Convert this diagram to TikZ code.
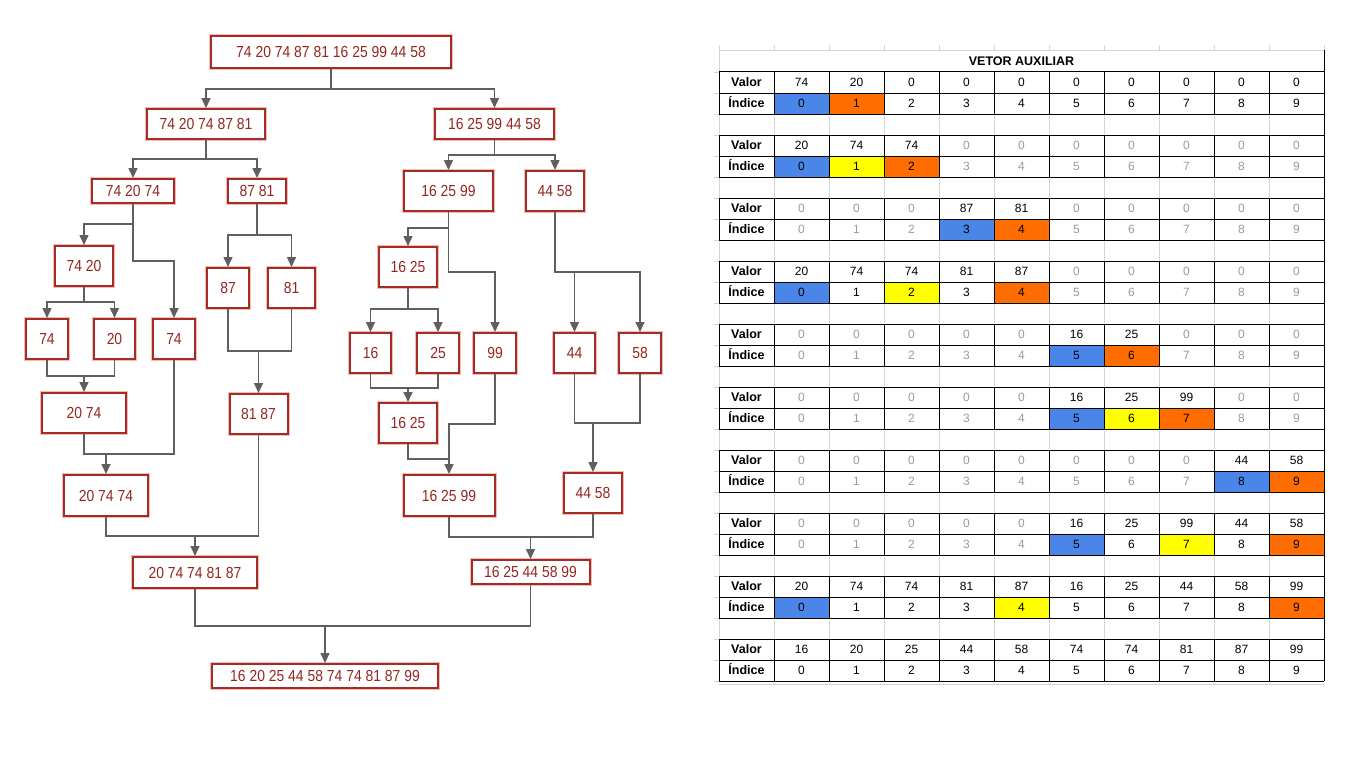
\documentclass[tikz,border=0pt]{standalone}
\usepackage{fontspec}
\setmainfont{Liberation Sans}
\newfontfamily\treefont[FakeStretch=0.87]{Liberation Sans}
\usetikzlibrary{arrows.meta}
\definecolor{boxred}{RGB}{163,45,38}
\definecolor{glow}{RGB}{244,186,182}
\definecolor{txtred}{RGB}{150,38,32}
\definecolor{conncol}{RGB}{95,95,95}
\definecolor{cblue}{RGB}{74,134,232}
\definecolor{corange}{RGB}{255,109,1}
\definecolor{cyellow}{RGB}{255,255,0}
\definecolor{tk}{RGB}{0,0,0}
\definecolor{tg}{RGB}{155,155,155}
\definecolor{gridg}{RGB}{212,212,212}
\newcommand\tblock[3]{%
  \pgfmathsetmacro\yv{72+63*#1}%
  \pgfmathsetmacro\yi{93+63*#1}%
  \pgfmathsetmacro\yb{114+63*#1}%
  \foreach \vcol/\fcol [count=\i from 0] in {#3}{%
    \path[fill=\fcol] ({774+55*\i},\yi) rectangle ({829+55*\i},\yb);
    \node[cell,text=\vcol] (i#1-\i) at ({801.5+55*\i},{\yi+10.5}) {\i};
  }
  \foreach \val/\vcol [count=\i from 0] in {#2}{%
    \node[cell,text=\vcol] (v#1-\i) at ({801.5+55*\i},{\yv+10.5}) {\val};
  }
  \node[lbl] (lv#1) at (746.5,{\yv+10.5}) {Valor};
  \node[lbl] (li#1) at (746.5,{\yi+10.5}) {Índice};
  \foreach \yy in {\yv,\yi,\yb} \draw[black, line width=1pt] (719,\yy) -- (1324,\yy);
  \foreach \xx in {719,774,...,1324} \draw[black, line width=1pt] (\xx,\yv) -- (\xx,\yb);
}
\begin{document}
\begin{tikzpicture}[x=1pt,y=-1pt,
  tbox/.style={draw=boxred, line width=2pt, preaction={draw=glow, line width=4pt}, fill=white,
    inner sep=0pt, font=\treefont\fontsize{16}{16}\selectfont, text=txtred, text height=11.5pt, text depth=0pt},
  ln/.style={draw=conncol, line width=1.5pt},
  conn/.style={ln, -{Triangle[length=10pt,width=9pt]}},
  cell/.style={inner sep=0pt, font=\fontsize{12}{12}\selectfont, text height=8.6pt, text depth=0pt},
  lbl/.style={cell, font=\bfseries\fontsize{12.5}{12}\selectfont}
]
\fill[white] (0,0) rectangle (1360,768);
\useasboundingbox (0,0) rectangle (1360,768);

% ---------------- tree nodes ----------------
\node[tbox, minimum width=240pt, minimum height=32pt] (root) at (331,52) {74 20 74 87 81 16 25 99 44 58};
\node[tbox, minimum width=118pt, minimum height=30pt] (l2L) at (206,124) {74 20 74 87 81};
\node[tbox, minimum width=119pt, minimum height=30pt] (l2R) at (494.5,124) {16 25 99 44 58};
\node[tbox, minimum width=82pt, minimum height=24pt] (n742074) at (133,191) {74 20 74};
\node[tbox, minimum width=58pt, minimum height=24pt] (n8781) at (257,191) {87 81};
\node[tbox, minimum width=89pt, minimum height=40pt] (n162599) at (448.5,191) {16 25 99};
\node[tbox, minimum width=58pt, minimum height=40pt] (n4458) at (555,191) {44 58};
\node[tbox, minimum width=58pt, minimum height=40pt] (n7420) at (84,266) {74 20};
\node[tbox, minimum width=41.5pt, minimum height=40pt] (n87) at (228,288) {87};
\node[tbox, minimum width=47pt, minimum height=40pt] (n81) at (291.5,288) {81};
\node[tbox, minimum width=58pt, minimum height=40pt] (n1625) at (408,267) {16 25};
\node[tbox, minimum width=42pt, minimum height=40pt] (n74a) at (47,339) {74};
\node[tbox, minimum width=41pt, minimum height=40pt] (n20) at (114.5,339) {20};
\node[tbox, minimum width=42pt, minimum height=40pt] (n74b) at (174,339) {74};
\node[tbox, minimum width=41.5pt, minimum height=40pt] (n16) at (370.5,353) {16};
\node[tbox, minimum width=41.5pt, minimum height=40pt] (n25) at (438,353) {25};
\node[tbox, minimum width=42pt, minimum height=40pt] (n99) at (495,353) {99};
\node[tbox, minimum width=41.5pt, minimum height=40pt] (n44) at (574.5,353) {44};
\node[tbox, minimum width=41.5pt, minimum height=40pt] (n58) at (640,353) {58};
\node[tbox, minimum width=84pt, minimum height=40pt] (n2074) at (84,413) {20 74};
\node[tbox, minimum width=58pt, minimum height=40pt] (n8187) at (258.5,414) {81 87};
\node[tbox, minimum width=58pt, minimum height=40pt] (n1625m) at (408,423) {16 25};
\node[tbox, minimum width=84pt, minimum height=41pt] (n207474) at (106,495.5) {20 74 74};
\node[tbox, minimum width=91pt, minimum height=41pt] (n162599m) at (449,495.5) {16 25 99};
\node[tbox, minimum width=58pt, minimum height=40pt] (n4458m) at (593,493) {44 58};
\node[tbox, minimum width=124pt, minimum height=31pt] (m1) at (195,572.5) {20 74 74 81 87};
\node[tbox, minimum width=118pt, minimum height=24pt] (m2) at (530.5,572) {16 25 44 58 99};
\node[tbox, minimum width=226pt, minimum height=24pt] (final) at (325,676) {16 20 25 44 58 74 74 81 87 99};

% ---------------- split connectors ----------------
\draw[conn] (root.south) -- (root.south |- 0,89) -| (l2L.north);
\draw[conn] (root.south |- 0,89) -| (l2R.north);
\draw[conn] (l2L.south) -- (l2L.south |- 0,159) -| (n742074.north);
\draw[conn] (l2L.south |- 0,159) -| (n8781.north);
\draw[conn] (l2R.south) -- (l2R.south |- 0,155) -| (n162599.north);
\draw[conn] (l2R.south |- 0,155) -| (n4458.north);
\draw[conn] (n742074.south) -- (n742074.south |- 0,224) -| (n7420.north);
\draw[conn] (n742074.south |- 0,224) -- (n742074.south |- 0,261) -| (n74b.north);
\draw[conn] (n8781.south) -- (n8781.south |- 0,235) -| (n87.north);
\draw[conn] (n8781.south |- 0,235) -| (n81.north);
\draw[conn] (n162599.south) -- (n162599.south |- 0,228) -| (n1625.north);
\draw[conn] (n162599.south |- 0,228) -- (n162599.south |- 0,272) -| (n99.north);
\draw[conn] (n4458.south) -- (n4458.south |- 0,272) -| (n44.north);
\draw[conn] (n4458.south |- 0,272) -| (n58.north);
\draw[conn] (n7420.south) -- (n7420.south |- 0,302) -| (n74a.north);
\draw[conn] (n7420.south |- 0,302) -| (n20.north);
\draw[conn] (n1625.south) -- (n1625.south |- 0,309) -| (n16.north);
\draw[conn] (n1625.south |- 0,309) -| (n25.north);

% ---------------- merge connectors ----------------
\coordinate (j2074) at (84,376);
\draw[ln] (n74a.south) |- (j2074) -| (n20.south);
\draw[conn] (j2074) -- (n2074.north);
\coordinate (j8187) at (258.5,351);
\draw[ln] (n87.south) |- (j8187) -| (n81.south);
\draw[conn] (j8187) -- (n8187.north);
\coordinate (j1625m) at (408,388);
\draw[ln] (n16.south) |- (j1625m) -| (n25.south);
\draw[conn] (j1625m) -- (n1625m.north);
\coordinate (j4458m) at (593,423);
\draw[ln] (n44.south) |- (j4458m) -| (n58.south);
\draw[conn] (j4458m) -- (n4458m.north);
\coordinate (j207474) at (106,454);
\draw[ln] (n2074.south) |- (j207474) -| (n74b.south);
\draw[conn] (j207474) -- (n207474.north);
\coordinate (k99) at (449,424);
\coordinate (j162599m) at (449,459);
\draw[ln] (n99.south) |- (k99) -- (j162599m);
\draw[ln] (n1625m.south) |- (j162599m);
\draw[conn] (j162599m) -- (n162599m.north);
\coordinate (jm1) at (195,536);
\draw[ln] (n207474.south) |- (jm1) -| (n8187.south);
\draw[conn] (jm1) -- (m1.north);
\coordinate (jm2) at (530.5,537);
\draw[ln] (n162599m.south) |- (jm2) -| (n4458m.south);
\draw[conn] (jm2) -- (m2.north);
\coordinate (jf) at (325,626);
\draw[ln] (m1.south) |- (jf) -| (m2.south);
\draw[conn] (jf) -- (final.north);

% ---------------- table ----------------
\foreach \xx in {719,774,...,1324} \draw[gridg, line width=0.8pt] (\xx,45) -- (\xx,50);
\foreach \r in {0,...,29} \draw[gridg, line width=0.8pt] (714,{72+21*\r}) -- (719,{72+21*\r});
\draw[gridg, line width=0.8pt] (719,50) -- (1324,50);
\draw[gridg, line width=0.8pt] (719,50) -- (719,681);
\draw[gridg, line width=0.8pt] (719,684) -- (1324,684);
\foreach \b in {0,...,8}
  \foreach \xx in {774,829,...,1269}
    \draw[gridg, line width=0.8pt] (\xx,{114+63*\b}) -- (\xx,{135+63*\b});
\draw[black, line width=1pt] (1324,50) -- (1324,681);
\node[font=\bfseries\fontsize{12.5}{12}\selectfont, inner sep=0pt, text height=9pt, text depth=0pt] (title) at (1021.5,61.5) {VETOR AUXILIAR};

\tblock{0}{74/tk,20/tk,0/tk,0/tk,0/tk,0/tk,0/tk,0/tk,0/tk,0/tk}{tk/cblue,tk/corange,tk/none,tk/none,tk/none,tk/none,tk/none,tk/none,tk/none,tk/none}
\tblock{1}{20/tk,74/tk,74/tk,0/tg,0/tg,0/tg,0/tg,0/tg,0/tg,0/tg}{tk/cblue,tk/cyellow,tk/corange,tg/none,tg/none,tg/none,tg/none,tg/none,tg/none,tg/none}
\tblock{2}{0/tg,0/tg,0/tg,87/tk,81/tk,0/tg,0/tg,0/tg,0/tg,0/tg}{tg/none,tg/none,tg/none,tk/cblue,tk/corange,tg/none,tg/none,tg/none,tg/none,tg/none}
\tblock{3}{20/tk,74/tk,74/tk,81/tk,87/tk,0/tg,0/tg,0/tg,0/tg,0/tg}{tk/cblue,tk/none,tk/cyellow,tk/none,tk/corange,tg/none,tg/none,tg/none,tg/none,tg/none}
\tblock{4}{0/tg,0/tg,0/tg,0/tg,0/tg,16/tk,25/tk,0/tg,0/tg,0/tg}{tg/none,tg/none,tg/none,tg/none,tg/none,tk/cblue,tk/corange,tg/none,tg/none,tg/none}
\tblock{5}{0/tg,0/tg,0/tg,0/tg,0/tg,16/tk,25/tk,99/tk,0/tg,0/tg}{tg/none,tg/none,tg/none,tg/none,tg/none,tk/cblue,tk/cyellow,tk/corange,tg/none,tg/none}
\tblock{6}{0/tg,0/tg,0/tg,0/tg,0/tg,0/tg,0/tg,0/tg,44/tk,58/tk}{tg/none,tg/none,tg/none,tg/none,tg/none,tg/none,tg/none,tg/none,tk/cblue,tk/corange}
\tblock{7}{0/tg,0/tg,0/tg,0/tg,0/tg,16/tk,25/tk,99/tk,44/tk,58/tk}{tg/none,tg/none,tg/none,tg/none,tg/none,tk/cblue,tk/none,tk/cyellow,tk/none,tk/corange}
\tblock{8}{20/tk,74/tk,74/tk,81/tk,87/tk,16/tk,25/tk,44/tk,58/tk,99/tk}{tk/cblue,tk/none,tk/none,tk/none,tk/cyellow,tk/none,tk/none,tk/none,tk/none,tk/corange}
\tblock{9}{16/tk,20/tk,25/tk,44/tk,58/tk,74/tk,74/tk,81/tk,87/tk,99/tk}{tk/none,tk/none,tk/none,tk/none,tk/none,tk/none,tk/none,tk/none,tk/none,tk/none}
\end{tikzpicture}
\end{document}
